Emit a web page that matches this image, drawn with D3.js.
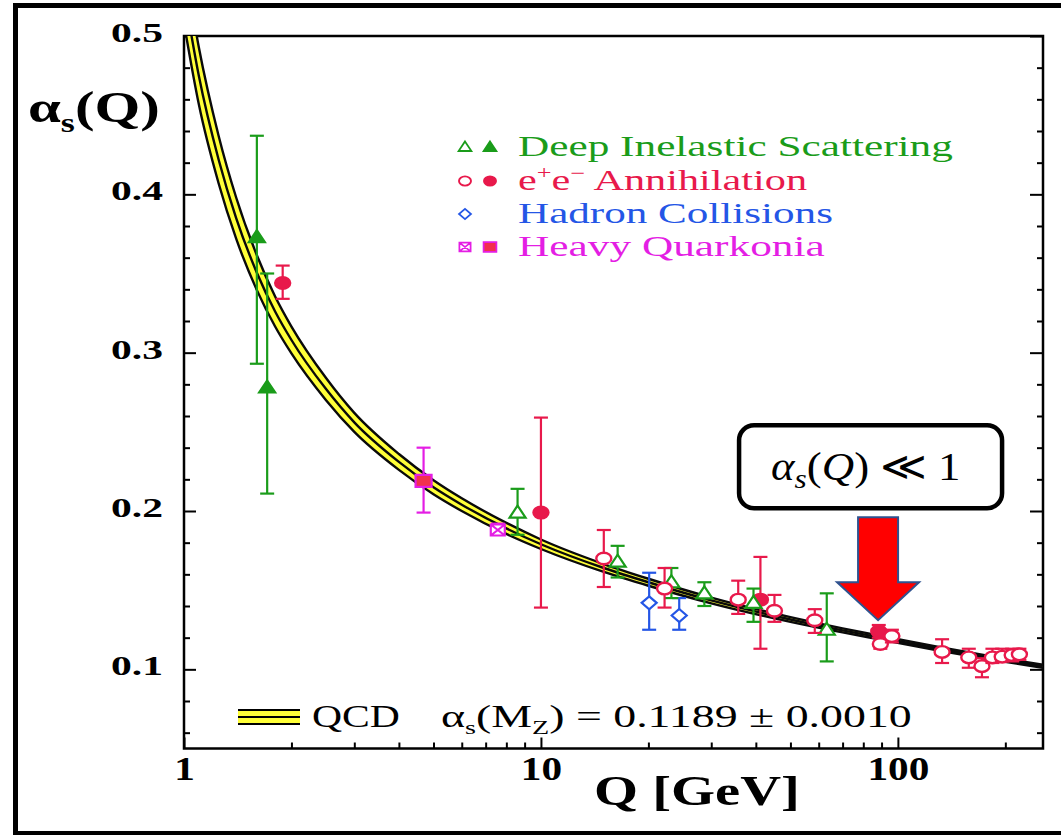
<!DOCTYPE html>
<html>
<head>
<meta charset="utf-8">
<script src="https://cdn.jsdelivr.net/npm/d3@7"></script>
<style>
  body { margin: 0; background: #fff; }
  svg { display: block; }
</style>
</head>
<body>
<div id="chart"></div>
<script>
// running coupling

// QCD band: Q, central alpha_s, half width of the band
const CURVE_Q   = [1.0, 1.1, 1.25, 1.4, 1.6, 1.8, 2.0, 2.5, 3, 4, 5, 6, 8, 10, 15, 20, 30, 50, 70, 91, 130, 180, 255];
const CURVE_A   = [0.528, 0.475, 0.422, 0.385, 0.3505, 0.326, 0.308, 0.277, 0.256, 0.231, 0.215, 0.204, 0.189, 0.179, 0.164, 0.155, 0.1435, 0.1315, 0.1246, 0.1197, 0.113, 0.1074, 0.1019];
const CURVE_ERR = [0.02, 0.018, 0.015, 0.013, 0.011, 0.0095, 0.0085, 0.007, 0.006, 0.005, 0.0044, 0.004, 0.0035, 0.003, 0.0025, 0.0022, 0.0018, 0.0015, 0.0013, 0.0012, 0.0011, 0.001, 0.001];

// measurements: [Q, alpha_s, low, high]
const DIS_OPEN = [
  [8.6, 0.199, 0.185, 0.214], [16.4, 0.168, 0.158, 0.178], [23.2, 0.155, 0.145, 0.164],
  [28.7, 0.148, 0.140, 0.155], [39.4, 0.142, 0.130, 0.151], [63.2, 0.125, 0.105, 0.148]
];
const DIS_FILLED = [[1.60, 0.373, 0.293, 0.437], [1.71, 0.278, 0.211, 0.350]];

const EE_OPEN = [
  [15.0, 0.170, 0.152, 0.188], [22.2, 0.151, 0.139, 0.164], [35.7, 0.144, 0.135, 0.156],
  [45.1, 0.137, 0.130, 0.147], [58.5, 0.131, 0.123, 0.138], [89.3, 0.116, 0.113, 0.120],
  [96.2, 0.121, 0.117, 0.125], [133, 0.111, 0.104, 0.119], [158, 0.1075, 0.101, 0.113],
  [172, 0.102, 0.095, 0.107], [184, 0.1075, 0.104, 0.113], [196, 0.108, 0.105, 0.113],
  [209, 0.109, 0.105, 0.113], [219, 0.1095, 0.106, 0.113]
];
const EE_FILLED = [[1.89, 0.344, 0.334, 0.355], [10.0, 0.199, 0.139, 0.259], [41.2, 0.144, 0.113, 0.171], [88.4, 0.124, 0.120, 0.128]];

const HADRON = [[20.1, 0.142, 0.125, 0.161], [24.4, 0.134, 0.125, 0.145]];

const QUARKONIA_FILLED = [[4.69, 0.219, 0.199, 0.240]];
const QUARKONIA_OPEN = [[7.57, 0.188, 0.185, 0.192]];

const X_MAJOR = [1, 10, 100];
const X_MINOR = [2, 3, 4, 5, 6, 7, 8, 9, 20, 30, 40, 50, 60, 70, 80, 90, 200];
const Y_MAJOR = [0.1, 0.2, 0.3, 0.4, 0.5];

const LEGEND_LABELS = ["Deep Inelastic Scattering", "e+e− Annihilation", "Hadron Collisions", "Heavy Quarkonia"];

const GREEN = "#1a9c1a", RED = "#e8194b", BLUE = "#2456e6", MAGENTA = "#e41ee4";
const LEGEND_COLORS = [GREEN, RED, BLUE, MAGENTA];

const W = 1061, H = 835;
const FONT = "'Liberation Serif', 'Times New Roman', serif";

const svg = d3.select("#chart").append("svg")
  .attr("width", W).attr("height", H)
  .style("font-family", FONT);

const x = d3.scaleLog().domain([1, 255]).range([184, 1043]);
const y = d3.scaleLinear().domain([0.05, 0.5]).range([748.5, 36]);

// the picture is stretched sideways, so text gets squeezed/stretched to its width
function fit(sel, w, anchor) {
  const b = sel.node().getBBox();
  const sx = w / b.width;
  const ax = anchor === "middle" ? b.x + b.width / 2 : anchor === "end" ? b.x + b.width : b.x;
  sel.attr("transform", `translate(${ax},0) scale(${sx},1) translate(${-ax},0)`);
}

// slide frame
svg.append("rect")
  .attr("x", 15.5).attr("y", 5.5).attr("width", 1100).attr("height", 828)
  .attr("fill", "none").attr("stroke", "#000").attr("stroke-width", 5);

// ---- axes ----
const yMinor = d3.range(0.06, 0.5, 0.02).filter(v => Math.abs(v * 10 - Math.round(v * 10)) > 1e-6);

const axes = svg.append("g").attr("class", "axes");

axes.append("g").attr("transform", `translate(0,${y.range()[0]})`)
  .call(d3.axisBottom(x).tickValues(X_MAJOR).tickSize(-11).tickSizeOuter(0).tickPadding(8).tickFormat(d3.format("d")))
  .call(g => g.select(".domain").remove())
  .call(g => g.selectAll("text")
    .attr("fill", "#000").style("font-size", "33px").style("font-weight", "bold").style("font-family", FONT)
    .each(function() { fit(d3.select(this), this.getBBox().width * 1.25, "middle"); }));
axes.append("g").attr("transform", `translate(0,${y.range()[0]})`)
  .call(d3.axisBottom(x).tickValues(X_MINOR).tickSize(-6).tickSizeOuter(0).tickFormat(""))
  .call(g => g.select(".domain").remove());

axes.append("g").attr("transform", `translate(${x.range()[0]},0)`)
  .call(d3.axisLeft(y).tickValues(Y_MAJOR).tickSize(-12).tickSizeOuter(0).tickPadding(21).tickFormat(d3.format(".1f")))
  .call(g => g.select(".domain").remove())
  .call(g => g.selectAll("text")
    .attr("fill", "#000").attr("dy", "0.2em").style("font-size", "28px").style("font-weight", "bold").style("font-family", FONT)
    .each(function() { fit(d3.select(this), 52, "end"); }));
axes.append("g").attr("transform", `translate(${x.range()[0]},0)`)
  .call(d3.axisLeft(y).tickValues(yMinor).tickSize(-6).tickSizeOuter(0).tickFormat(""))
  .call(g => g.select(".domain").remove());

axes.append("g").attr("transform", `translate(${x.range()[1]},0)`)
  .call(d3.axisRight(y).tickValues(Y_MAJOR).tickSize(-13).tickSizeOuter(0).tickFormat(""))
  .call(g => g.select(".domain").remove());
axes.append("g").attr("transform", `translate(${x.range()[1]},0)`)
  .call(d3.axisRight(y).tickValues(yMinor).tickSize(-6).tickSizeOuter(0).tickFormat(""))
  .call(g => g.select(".domain").remove());

axes.selectAll(".tick line").attr("stroke", "#000").attr("stroke-width", 2);

axes.append("rect")
  .attr("x", x.range()[0]).attr("y", y.range()[1])
  .attr("width", x.range()[1] - x.range()[0]).attr("height", y.range()[0] - y.range()[1])
  .attr("fill", "none").attr("stroke", "#000").attr("stroke-width", 2.5);

// axis titles
const yTitle = svg.append("text").attr("x", 28).attr("y", 122)
  .style("font-size", "44px").style("font-weight", "bold");
yTitle.append("tspan").text("α");
yTitle.append("tspan").attr("dy", 10).style("font-size", "27px").text("s");
yTitle.append("tspan").attr("dy", -10).text("(Q)");
fit(yTitle, 132, "start");

const xTitle = svg.append("text").attr("x", 697).attr("y", 805)
  .attr("text-anchor", "middle")
  .style("font-size", "42px").style("font-weight", "bold")
  .text("Q [GeV]");
fit(xTitle, 206, "middle");

// ---- QCD band ----
svg.append("clipPath").attr("id", "plotClip")
  .append("rect")
  .attr("x", x.range()[0]).attr("y", y.range()[1])
  .attr("width", x.range()[1] - x.range()[0]).attr("height", y.range()[0] - y.range()[1]);

const curve = CURVE_Q.map((q, i) => ({ q, a: CURVE_A[i], e: CURVE_ERR[i] }));
const band = svg.append("g").attr("clip-path", "url(#plotClip)");

band.append("path").datum(curve)
  .attr("fill", "#ffff38")
  .attr("d", d3.area().x(d => x(d.q)).y0(d => y(d.a - d.e)).y1(d => y(d.a + d.e)).curve(d3.curveMonotoneX));

[-1, 0, 1].forEach(s => {
  band.append("path").datum(curve)
    .attr("fill", "none").attr("stroke", "#0a0a0a").attr("stroke-width", 2.4)
    .attr("d", d3.line().x(d => x(d.q)).y(d => y(d.a + s * d.e)).curve(d3.curveMonotoneX));
});

// ---- markers ----
const SHAPES = {
  tri: "M0,-7L8,5L-8,5Z",
  diam: "M0,-6.5L7.5,0L0,6.5L-7.5,0Z",
  sq: "M-8,-6H8V6H-8Z",
  xsq: "M-7,-5.5H7V5.5H-7Z M-7,-5.5L7,5.5 M7,-5.5L-7,5.5"
};

function drawMarker(g, shape, stroke, fill) {
  if (shape === "circ") {
    g.append("ellipse").attr("rx", 7.5).attr("ry", 5.8)
      .attr("fill", fill).attr("stroke", stroke).attr("stroke-width", 2.4);
  } else {
    g.append("path").attr("d", SHAPES[shape])
      .attr("fill", fill).attr("stroke", stroke).attr("stroke-width", 2.2)
      .attr("stroke-linejoin", "miter");
  }
}

function drawSeries(rows, shape, stroke, fill) {
  const g = svg.append("g");
  const pts = g.selectAll("g.pt")
    .data(rows.map(r => ({ q: r[0], a: r[1], lo: r[2], hi: r[3] })))
    .join("g").attr("class", "pt")
    .attr("transform", d => `translate(${x(d.q)},0)`);

  pts.append("line").attr("y1", d => y(d.hi)).attr("y2", d => y(d.lo))
    .attr("stroke", stroke).attr("stroke-width", 2.2);
  pts.append("line").attr("x1", -7).attr("x2", 7).attr("y1", d => y(d.hi)).attr("y2", d => y(d.hi))
    .attr("stroke", stroke).attr("stroke-width", 2.2);
  pts.append("line").attr("x1", -7).attr("x2", 7).attr("y1", d => y(d.lo)).attr("y2", d => y(d.lo))
    .attr("stroke", stroke).attr("stroke-width", 2.2);

  pts.append("g").attr("transform", d => `translate(0,${y(d.a)})`)
    .each(function() { drawMarker(d3.select(this), shape, stroke, fill); });
}

drawSeries(DIS_FILLED, "tri", GREEN, GREEN);
drawSeries(EE_FILLED, "circ", RED, RED);
drawSeries(QUARKONIA_FILLED, "sq", MAGENTA, "#f2304e");
drawSeries(QUARKONIA_OPEN, "xsq", MAGENTA, "#fff");
drawSeries(HADRON, "diam", BLUE, "#fff");
drawSeries(DIS_OPEN, "tri", GREEN, "#fff");
drawSeries(EE_OPEN, "circ", RED, "#fff");

// ---- legend ----
const LEG_ROWS = [156, 190, 223, 256];
const LEG_WIDTHS = [435, 290, 315, 307];
const legMarkers = [
  [["tri", GREEN, "#fff"], ["tri", GREEN, GREEN]],
  [["circ", RED, "#fff"], ["circ", RED, RED]],
  [["diam", BLUE, "#fff"]],
  [["xsq", MAGENTA, "#fff"], ["sq", MAGENTA, "#f2304e"]]
];

const legend = svg.append("g");
LEGEND_LABELS.forEach((label, i) => {
  const by = LEG_ROWS[i];
  legMarkers[i].forEach((m, j) => {
    const mg = legend.append("g").attr("transform", `translate(${465 + j * 25},${by - 9}) scale(0.8)`);
    drawMarker(mg, m[0], m[1], m[2]);
  });
  const t = legend.append("text").attr("x", 518).attr("y", by)
    .attr("fill", LEGEND_COLORS[i]).style("font-size", "29px");
  if (i === 1) {
    t.append("tspan").text("e");
    t.append("tspan").attr("dy", -11).style("font-size", "18px").text("+");
    t.append("tspan").attr("dy", 11).text("e");
    t.append("tspan").attr("dy", -11).style("font-size", "18px").text("−");
    t.append("tspan").attr("dy", 11).text(" Annihilation");
  } else {
    t.text(label);
  }
  fit(t, LEG_WIDTHS[i], "start");
});

// QCD key at the bottom
const key = svg.append("g");
key.append("rect").attr("x", 238).attr("y", 710).attr("width", 62).attr("height", 14).attr("fill", "#ffff38");
[710, 717, 724].forEach(ly => {
  key.append("line").attr("x1", 238).attr("x2", 300).attr("y1", ly).attr("y2", ly)
    .attr("stroke", "#000").attr("stroke-width", 2.2);
});
const qcd = key.append("text").attr("x", 312).attr("y", 727).style("font-size", "31px").text("QCD");
fit(qcd, 88, "start");
const mz = key.append("text").attr("x", 441).attr("y", 727).style("font-size", "31px");
mz.append("tspan").text("α");
mz.append("tspan").attr("dy", 7).style("font-size", "19px").text("s");
mz.append("tspan").attr("dy", -7).text("(M");
mz.append("tspan").attr("dy", 7).style("font-size", "19px").text("Z");
mz.append("tspan").attr("dy", -7).text(") = 0.1189 ± 0.0010");
fit(mz, 471, "start");

// ---- callout with arrow ----
const ARROW_Q = 88, ARROW_A = 0.131;
const ax = x(ARROW_Q), ay = y(ARROW_A);

svg.append("path")
  .attr("d", `M${ax - 20},${ay - 103} H${ax + 20} V${ay - 38} H${ax + 41} L${ax},${ay} L${ax - 41},${ay - 38} H${ax - 20} Z`)
  .attr("fill", "#ff0000").attr("stroke", "#2f528f").attr("stroke-width", 2);

svg.append("rect")
  .attr("x", ax - 139).attr("y", ay - 195).attr("width", 263).attr("height", 83).attr("rx", 15)
  .attr("fill", "#fff").attr("stroke", "#000").attr("stroke-width", 4.5);

const call = svg.append("text").attr("x", ax - 107).attr("y", ay - 140)
  .style("font-family", "'Liberation Serif', 'DejaVu Serif', serif").style("font-size", "40px");
call.append("tspan").style("font-style", "italic").text("α");
call.append("tspan").attr("dy", 8).style("font-style", "italic").style("font-size", "28px").text("s");
call.append("tspan").attr("dy", -8).text("(");
call.append("tspan").style("font-style", "italic").text("Q");
call.append("tspan").text(") ≪ 1");
fit(call, 190, "start");
</script>
</body>
</html>
